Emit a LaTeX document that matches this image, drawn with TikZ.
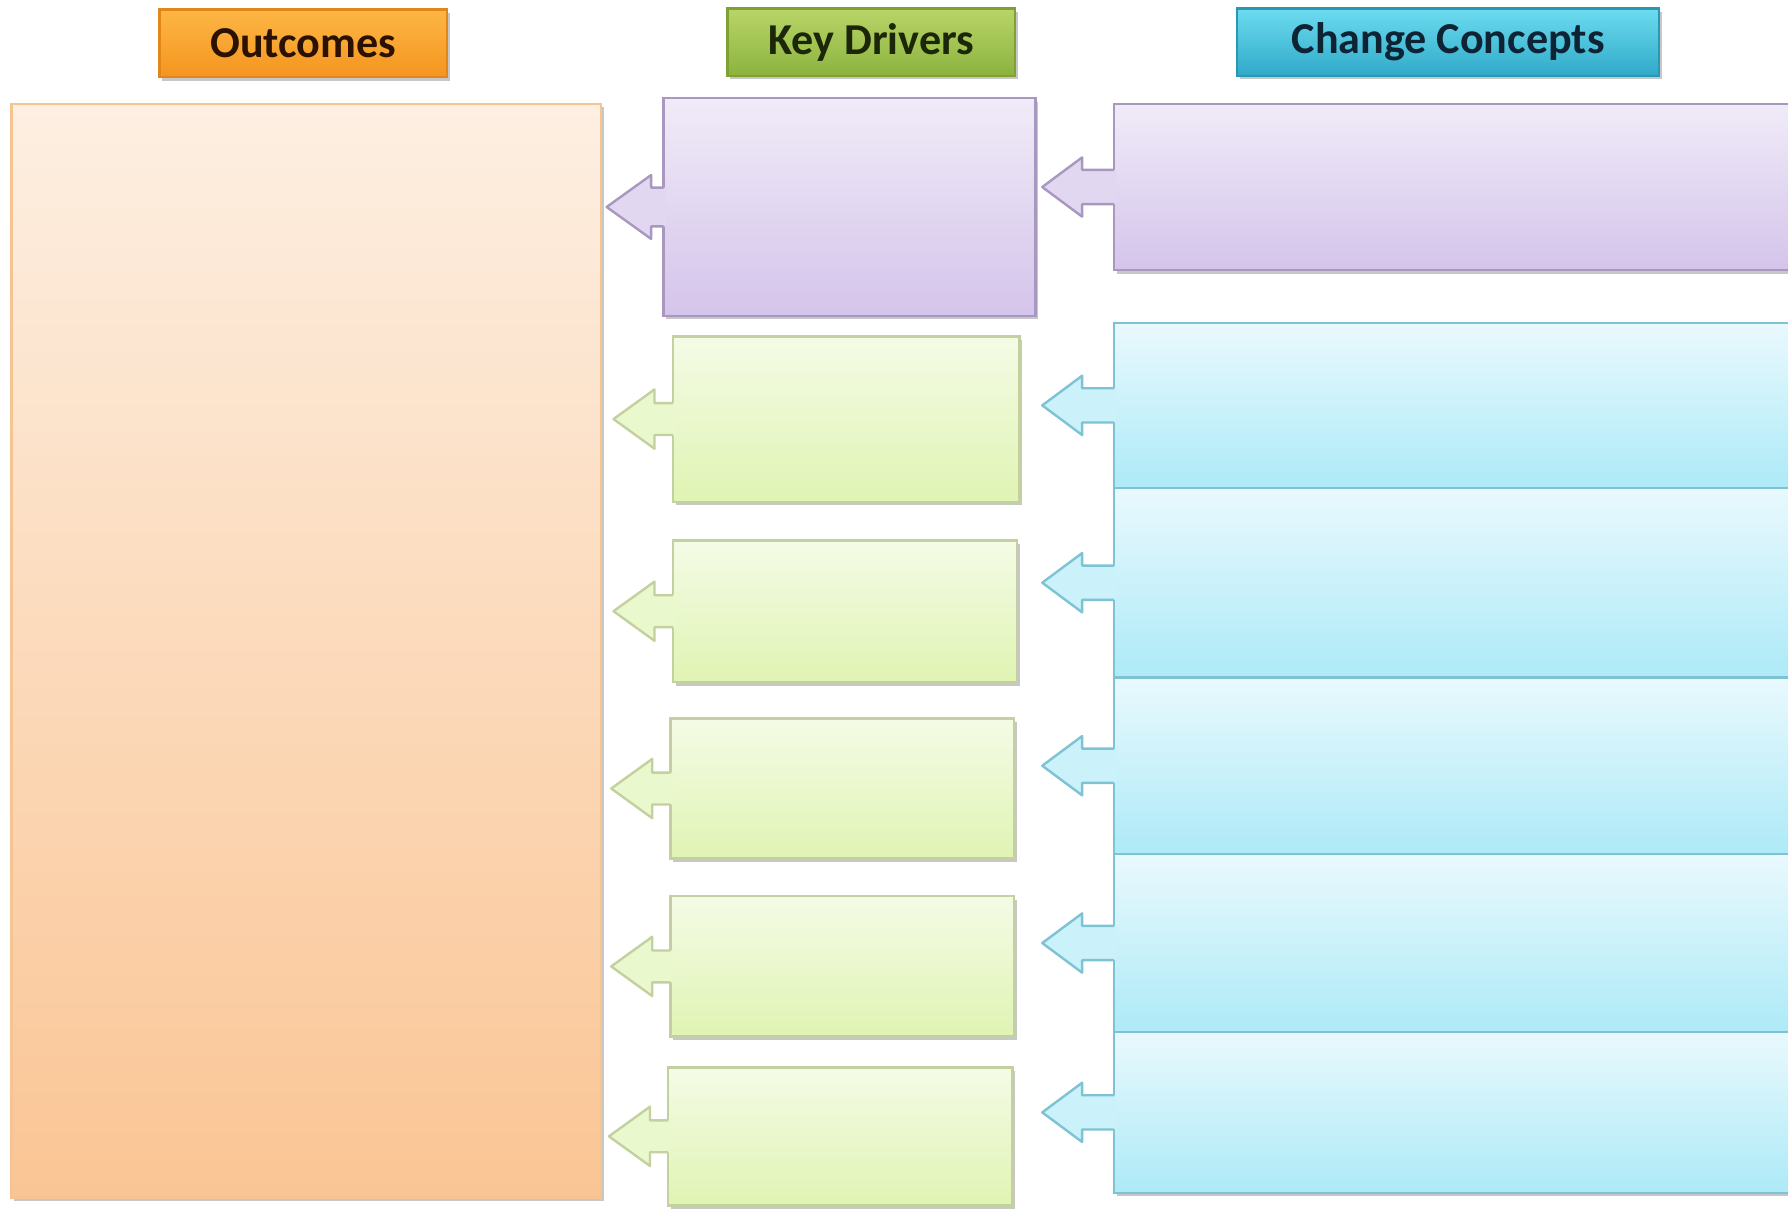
\documentclass[tikz,border=0pt]{standalone}
\usepackage{fontspec}
\setmainfont{Carlito}
\usetikzlibrary{fit,calc,shadows}

\definecolor{oT}{HTML}{FDB645}
\definecolor{oB}{HTML}{F4951F}
\definecolor{oD}{HTML}{E0861A}
\definecolor{oTx}{HTML}{2B1200}
\definecolor{gT}{HTML}{B8D568}
\definecolor{gB}{HTML}{8CB33E}
\definecolor{gD}{HTML}{7FA032}
\definecolor{gTx}{HTML}{1C2608}
\definecolor{cT}{HTML}{6CDCF0}
\definecolor{cB}{HTML}{30A9C8}
\definecolor{cD}{HTML}{2A98B4}
\definecolor{cTx}{HTML}{0E2333}
\definecolor{outT}{HTML}{FDEFE2}
\definecolor{outB}{HTML}{FAC594}
\definecolor{outD}{HTML}{F6C493}
\definecolor{puT}{HTML}{F0EBF8}
\definecolor{puB}{HTML}{D4C4EA}
\definecolor{puD}{HTML}{A898BF}
\definecolor{grT}{HTML}{F4FBE6}
\definecolor{grB}{HTML}{E0F4B3}
\definecolor{grD}{HTML}{C4D0A0}
\definecolor{cyT}{HTML}{E9F9FD}
\definecolor{cyB}{HTML}{ADEAF7}
\definecolor{cyD}{HTML}{7EC3D3}

\tikzset{
  base/.style={inner sep=0pt, outer sep=0pt, line width=0.6pt},
  shd/.style={drop shadow={shadow xshift=0.7pt, shadow yshift=-0.9pt, opacity=0.22, fill=black}},
  hdr/.style={base, shd, minimum height=0.59cm, font=\bfseries\fontsize{11}{13}\selectfont},
  hdrO/.style={hdr, top color=oT, bottom color=oB, draw=oD, text=oTx},
  hdrG/.style={hdr, top color=gT, bottom color=gB, draw=gD, text=gTx},
  hdrC/.style={hdr, top color=cT, bottom color=cB, draw=cD, text=cTx},
  outbox/.style={base, shd, top color=outT, bottom color=outB, draw=outD},
  pubox/.style={base, shd, top color=puT, bottom color=puB, draw=puD},
  grbox/.style={base, shd, top color=grT, bottom color=grB, draw=grD},
  cybox/.style={base, shd, top color=cyT, bottom color=cyB, draw=cyD},
}

% #1 node, #2 total length, #3 head length, #4 head half height, #5 shaft half height, #6 fill, #7 draw
\newcommand\barrow[7]{%
  \fill[#6] ($(#1.west)+(2,-#5)$) -- ($(#1.west)+(-#2+#3,-#5)$) -- ($(#1.west)+(-#2+#3,-#4)$)
    -- ($(#1.west)+(-#2,0)$) -- ($(#1.west)+(-#2+#3,#4)$) -- ($(#1.west)+(-#2+#3,#5)$)
    -- ($(#1.west)+(2,#5)$) -- cycle;
  \draw[#7, line width=0.6pt, line join=round] ($(#1.west)+(0,-#5)$) -- ($(#1.west)+(-#2+#3,-#5)$)
    -- ($(#1.west)+(-#2+#3,-#4)$) -- ($(#1.west)+(-#2,0)$) -- ($(#1.west)+(-#2+#3,#4)$)
    -- ($(#1.west)+(-#2+#3,#5)$) -- ($(#1.west)+(0,#5)$);
}

\begin{document}
\begin{tikzpicture}[x=0.01cm, y=-0.01cm]
\useasboundingbox (0,0) rectangle (1568,1060);

% headers
\node[hdrO, minimum width=2.52cm] (hO) at (266,38) {Outcomes};
\node[hdrG, minimum width=2.52cm] (hK) at (764,37) {Key Drivers};
\node[hdrC, minimum width=3.70cm] (hC) at (1270,37) {Change Concepts};

% outcomes
\node[outbox, fit={(10,91) (527,1050)}] (out) {};

% change concepts
\node[pubox, fit={(977,91) (1580,237)}] (c1) {};
\node[cybox, fit={(977,283) (1580,428)}] (c2) {};
\node[cybox, fit={(977,428) (1580,594)}] (c3) {};
\node[cybox, fit={(977,594) (1580,749)}] (c4) {};
\node[cybox, fit={(977,749) (1580,905)}] (c5) {};
\node[cybox, fit={(977,905) (1580,1046)}] (c6) {};

% key drivers
\node[pubox, fit={(582,86) (908,277)}] (d1) {};
\node[grbox, fit={(590,295) (894,440)}] (d2) {};
\node[grbox, fit={(590,474) (892,598)}] (d3) {};
\node[grbox, fit={(588,630) (889,753)}] (d4) {};
\node[grbox, fit={(588,786) (889,909)}] (d5) {};
\node[grbox, fit={(586,936) (888,1057)}] (d6) {};

% block arrows of the drivers
\barrow{d1}{50}{39}{28}{17}{puT!50!puB}{puD}
\barrow{d2}{52}{36}{26}{14}{grT!50!grB}{grD}
\barrow{d3}{52}{36}{26}{14}{grT!50!grB}{grD}
\barrow{d4}{52}{36}{26}{14}{grT!50!grB}{grD}
\barrow{d5}{52}{36}{26}{14}{grT!50!grB}{grD}
\barrow{d6}{52}{36}{26}{14}{grT!50!grB}{grD}

% block arrows of the change concepts
\barrow{c1}{63}{35}{26}{15}{puT!50!puB}{puD}
\barrow{c2}{63}{35}{26}{15}{cyT!50!cyB}{cyD}
\barrow{c3}{63}{35}{26}{15}{cyT!50!cyB}{cyD}
\barrow{c4}{63}{35}{26}{15}{cyT!50!cyB}{cyD}
\barrow{c5}{63}{35}{26}{15}{cyT!50!cyB}{cyD}
\barrow{c6}{63}{35}{26}{15}{cyT!50!cyB}{cyD}
\end{tikzpicture}
\end{document}
